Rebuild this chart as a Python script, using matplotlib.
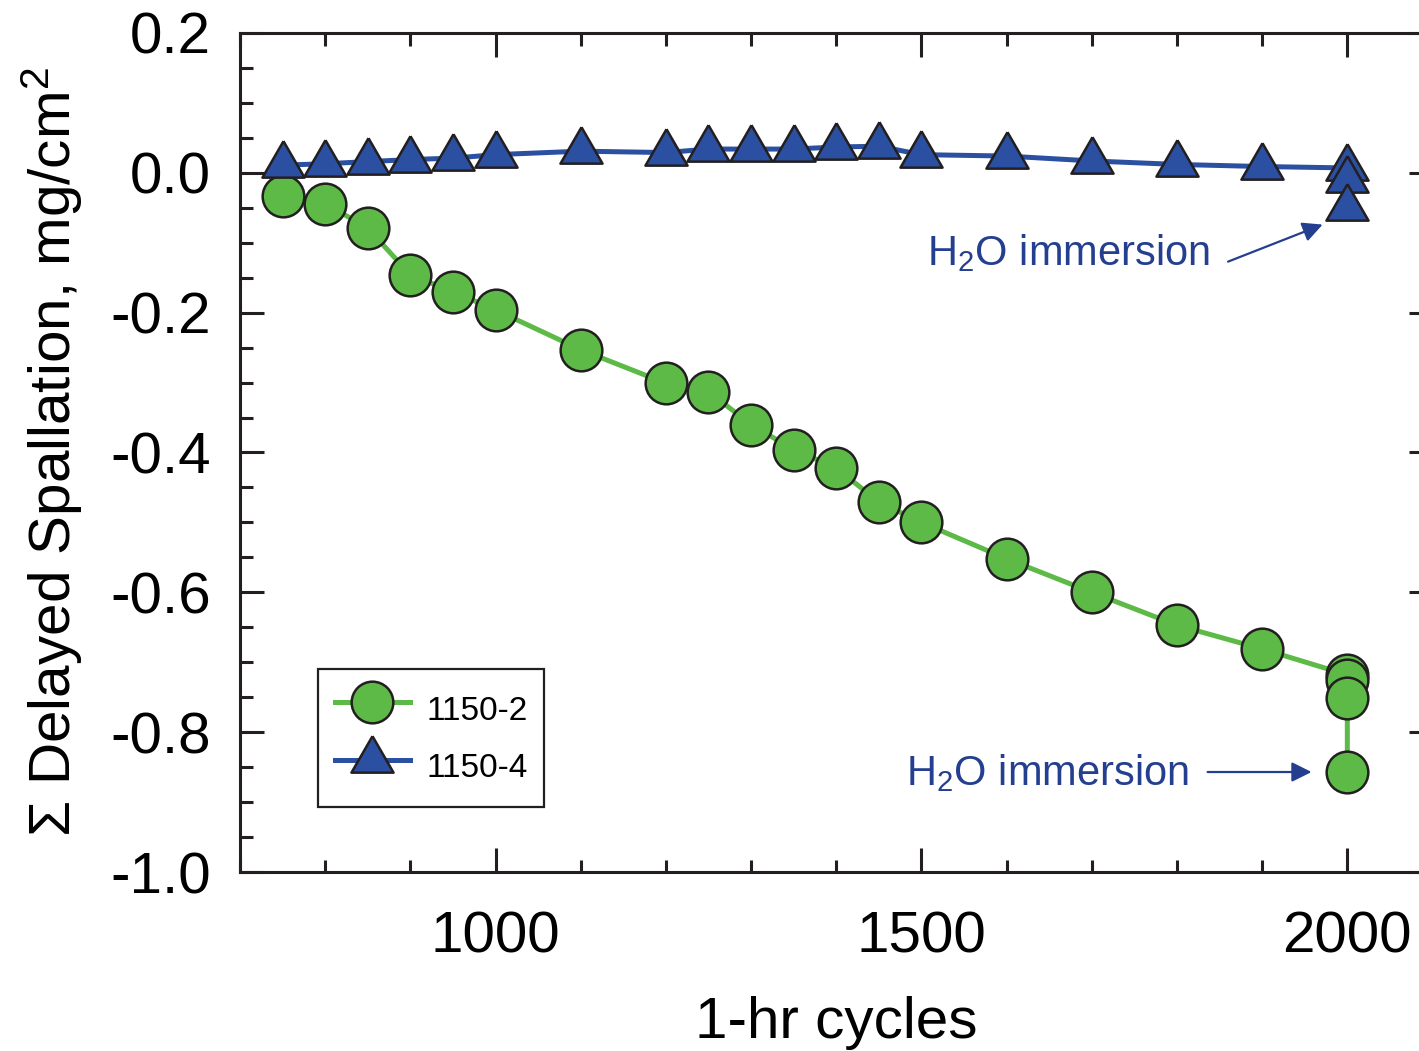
import numpy as np
import matplotlib
matplotlib.use("Agg")
import matplotlib.pyplot as plt
from matplotlib.ticker import MultipleLocator, FormatStrFormatter

# --- data ---
cycles_a = [750, 800, 850, 900, 950, 1000, 1100, 1200, 1250, 1300, 1350, 1400,
            1450, 1500, 1600, 1700, 1800, 1900, 2000, 2000, 2000, 2000]
spall_a = [-0.033, -0.044, -0.079, -0.146, -0.170, -0.196, -0.253, -0.301, -0.313,
           -0.360, -0.396, -0.422, -0.471, -0.500, -0.552, -0.600, -0.647, -0.681,
           -0.718, -0.725, -0.751, -0.857]

cycles_b = [750, 800, 850, 900, 950, 1000, 1100, 1200, 1250, 1300, 1350, 1400,
            1450, 1500, 1600, 1700, 1800, 1900, 2000, 2000, 2000]
spall_b = [0.011, 0.013, 0.016, 0.019, 0.021, 0.026, 0.031, 0.029, 0.034, 0.034,
           0.034, 0.037, 0.038, 0.026, 0.024, 0.017, 0.012, 0.009, 0.007, -0.010,
           -0.051]

labels = ["1150-2", "1150-4"]

green = "#5dba47"
blue = "#2b50a1"
navy = "#243f8f"
edge = "#231f20"

plt.rcParams['font.family'] = ['Liberation Sans', 'DejaVu Sans']
plt.rcParams['mathtext.fontset'] = 'custom'
plt.rcParams['mathtext.rm'] = 'Liberation Sans'
plt.rcParams['mathtext.it'] = 'Liberation Sans:italic'
plt.rcParams['axes.unicode_minus'] = False

fig = plt.figure(figsize=(14.19, 10.51), dpi=100)
ax = fig.add_axes([240 / 1419, 179 / 1051, 1192.5 / 1419, 839 / 1051])

# triangle centred on its centroid (as in the original software)
tri = [(0, 1), (-0.866, -0.5), (0.866, -0.5), (0, 1)]

ax.plot(cycles_a, spall_a, color=green, lw=3.6, marker='o', ms=30,
        mfc=green, mec=edge, mew=1.8, label=labels[0], zorder=3)
ax.plot(cycles_b, spall_b, color=blue, lw=3.6, marker=tri, ms=35,
        mfc=blue, mec=edge, mew=1.8, label=labels[1], zorder=4)

ax.set_xlim(700, 2100)
ax.set_ylim(-1.0, 0.2)

ax.xaxis.set_major_locator(MultipleLocator(500))
ax.xaxis.set_minor_locator(MultipleLocator(100))
ax.yaxis.set_major_locator(MultipleLocator(0.2))
ax.yaxis.set_minor_locator(MultipleLocator(0.05))
ax.yaxis.set_major_formatter(FormatStrFormatter('%.1f'))

ax.tick_params(which='both', direction='in', top=True, right=True, width=2.2,
               color='#231f20', labelsize=42, pad=21)
ax.tick_params(axis='x', which='major', pad=28)
ax.tick_params(which='major', length=17)
ax.tick_params(which='minor', length=9)
ax.tick_params(axis='y', which='minor', right=False)
for s in ax.spines.values():
    s.set_linewidth(2.2)
    s.set_color('#231f20')

ax.set_xlabel('1-hr cycles', fontsize=42)
ax.xaxis.set_label_coords(0.5, -0.148)
ax.set_ylabel('Σ Delayed Spallation, mg/cm$^2$', fontsize=42)
ax.yaxis.set_label_coords(-0.13, 0.5)

# annotations
ax.text(1507, -0.132, 'H$_2$O immersion', color=navy, fontsize=30, va='baseline')
ax.annotate('', xy=(1971, -0.074), xytext=(1860, -0.127),
            arrowprops=dict(arrowstyle='-|>', color=navy, lw=1.6,
                            mutation_scale=30, shrinkA=0, shrinkB=0))
ax.text(1482, -0.876, 'H$_2$O immersion', color=navy, fontsize=30, va='baseline')
ax.annotate('', xy=(1958, -0.857), xytext=(1836, -0.857),
            arrowprops=dict(arrowstyle='-|>', color=navy, lw=1.6,
                            mutation_scale=30, shrinkA=0, shrinkB=0))

leg = ax.legend(loc='lower left', bbox_to_anchor=(0.0654, 0.0775), fontsize=24,
                frameon=True, fancybox=False, borderaxespad=0, handlelength=2.25,
                handleheight=1.8, handletextpad=0.5, labelspacing=0.32,
                borderpad=0.5)
leg.get_frame().set_edgecolor('#231f20')
leg.get_frame().set_linewidth(1.6)
leg.get_frame().set_alpha(1)

fig.savefig('out.png', dpi=100)
